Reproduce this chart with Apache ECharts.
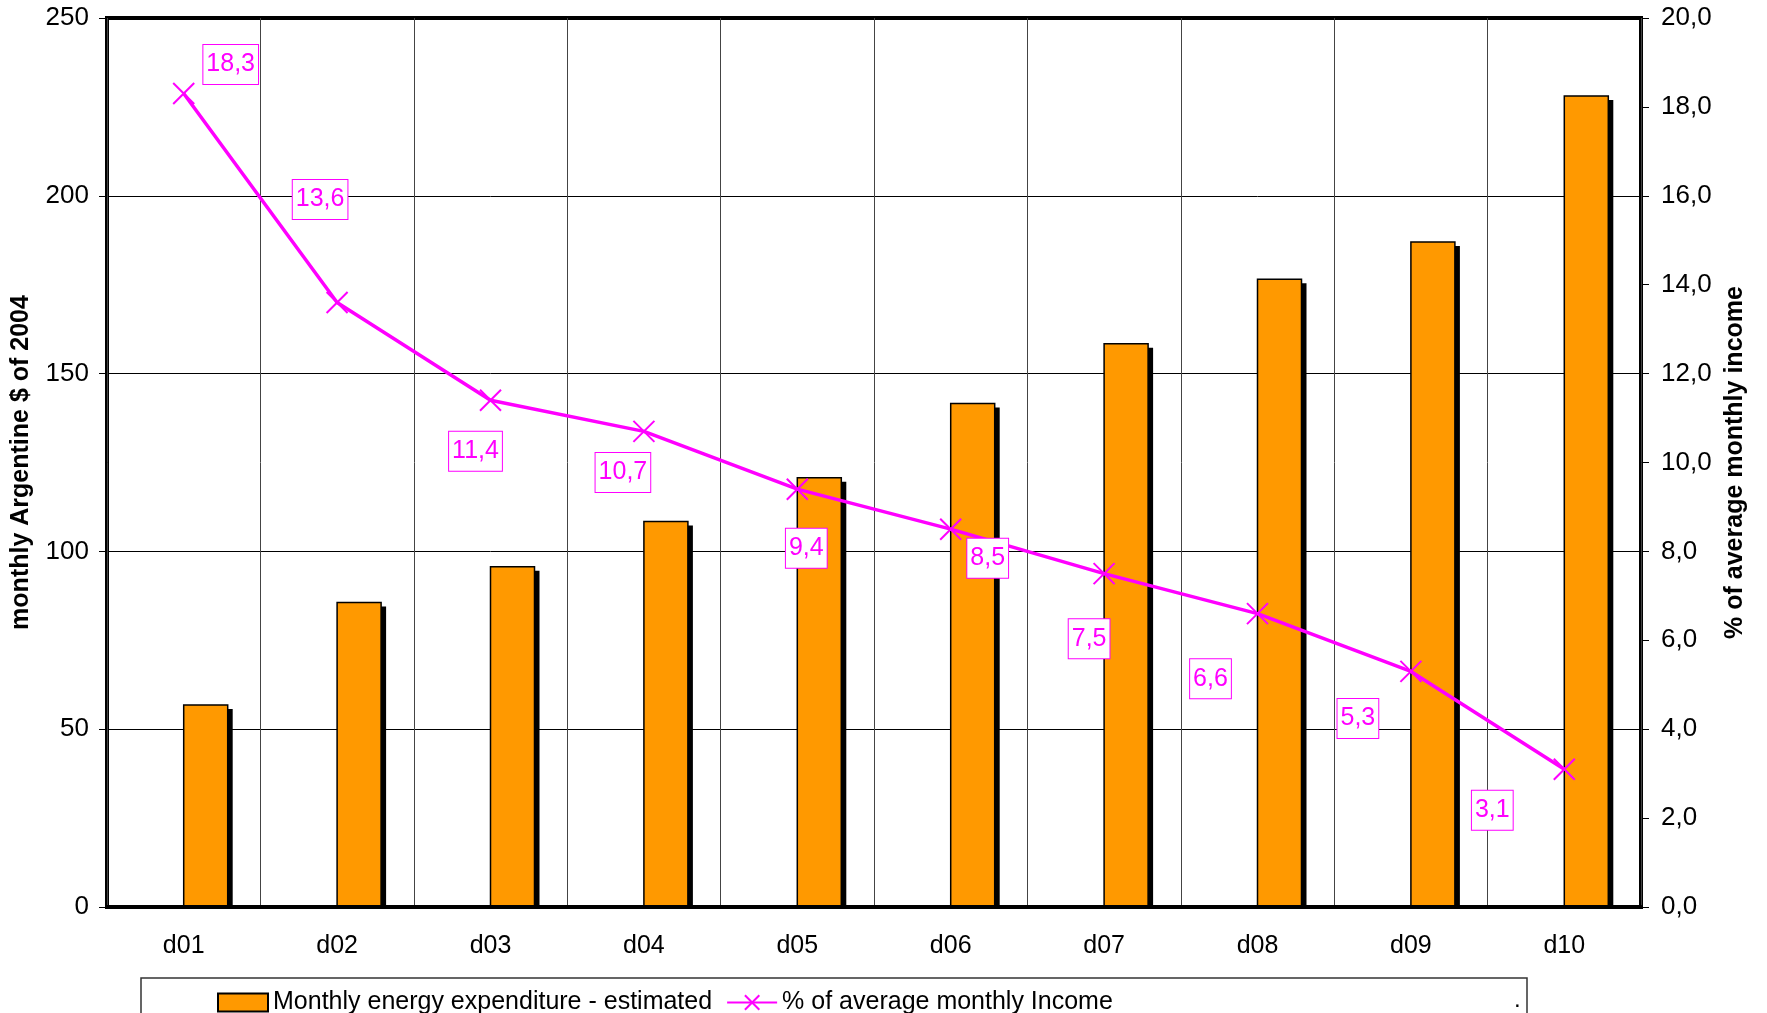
<!DOCTYPE html>
<html>
<head>
<meta charset="UTF-8">
<title>Energy expenditure by decile</title>
<script src="https://cdn.jsdelivr.net/npm/echarts@6/dist/echarts.min.js"></script>
<style>
  *{margin:0;padding:0;}
  body{background:#fff;}
  #main{width:1767px;height:1013px;}
</style>
</head>
<body>
<div id="main"></div>
<script>
// data
var deciles = ['d01','d02','d03','d04','d05','d06','d07','d08','d09','d10'];
var expenditure = [56.8, 85.6, 95.7, 108.4, 120.7, 141.6, 158.4, 176.5, 187.0, 228.1];
var incomeShare = [18.3, 13.6, 11.4, 10.7, 9.4, 8.5, 7.5, 6.6, 5.3, 3.1];

// where each label box sits relative to its point (px)
var labelShift = [[47,-29],[-17,-103],[-15,51],[-21,41],[9,59],[37,29],[-15,65],[-47,65],[-53,47],[-72,41]];

var font = 'Liberation Sans, Arial, sans-serif';
var pink = '#FF00FF';
var orange = '#FF9900';
var barW = 44;

function comma(v){ return Number(v).toFixed(1).replace('.', ','); }

var lineData = incomeShare.map(function(v, i){
  return { value: v, label: { offset: labelShift[i] } };
});
var barData = expenditure.map(function(v, i){ return [i, v]; });

// bar starts at the category centre, with a hard black drop shadow
function drawBar(params, api){
  var top = api.coord([api.value(0), api.value(1)]);
  var base = api.coord([api.value(0), 0]);
  var h = base[1] - top[1];
  return {
    type: 'group',
    children: [{
      type: 'rect',
      shape: { x: top[0] + 5, y: top[1] + 4, width: barW, height: h - 4 },
      style: { fill: '#000' }
    }, {
      type: 'rect',
      shape: { x: top[0], y: top[1], width: barW, height: h },
      style: { fill: orange, stroke: '#000', lineWidth: 1.5 }
    }]
  };
}

var myChart = echarts.init(document.getElementById('main'));

var option = {
  animation: false,
  textStyle: { fontFamily: font },
  grid: {
    left: 107, right: 126, top: 18, bottom: 106,
    show: true, borderColor: '#000', borderWidth: 4
  },
  legend: {
    left: 212, top: 985,
    itemWidth: 50, itemHeight: 18, itemGap: 14,
    textStyle: { fontSize: 25, color: '#000', fontFamily: font },
    data: [{
      name: 'Monthly energy expenditure - estimated',
      icon: 'rect',
      itemStyle: { color: orange, borderColor: '#000', borderWidth: 2 }
    }, '% of average monthly Income']
  },
  xAxis: {
    type: 'category',
    data: deciles,
    z: 3,
    axisLine: { lineStyle: { color: '#000', width: 4 } },
    axisTick: { length: 8, lineStyle: { color: '#000' } },
    axisLabel: { fontSize: 25, color: '#000', margin: 27, fontFamily: font },
    splitLine: { show: true, lineStyle: { color: '#444', width: 1 } }
  },
  yAxis: [{
    type: 'value', min: 0, max: 250, interval: 50,
    name: 'monthly Argentine $ of 2004',
    nameLocation: 'middle', nameRotate: 90, nameGap: 73,
    nameTextStyle: { fontSize: 25, fontWeight: 'bold', color: '#000', fontFamily: font },
    axisLine: { show: true, lineStyle: { color: '#000', width: 3 } },
    axisTick: { show: true, length: 8, lineStyle: { color: '#000' } },
    axisLabel: { fontSize: 26, color: '#000', margin: 18, fontFamily: font },
    splitLine: { show: true, lineStyle: { color: '#000', width: 1 } }
  }, {
    type: 'value', min: 0, max: 20, interval: 2, position: 'right',
    name: '% of average monthly income',
    nameLocation: 'middle', nameRotate: 90, nameGap: 82,
    nameTextStyle: { fontSize: 25, fontWeight: 'bold', color: '#000', fontFamily: font },
    axisLine: { show: true, lineStyle: { color: '#000', width: 3 } },
    axisTick: { show: true, length: 8, lineStyle: { color: '#000' } },
    axisLabel: { fontSize: 26, color: '#000', margin: 20, fontFamily: font, formatter: comma },
    splitLine: { show: false }
  }],
  series: [{
    name: 'Monthly energy expenditure - estimated',
    type: 'custom',
    renderItem: drawBar,
    encode: { x: 0, y: 1 },
    itemStyle: { color: orange },
    data: barData
  }, {
    name: '% of average monthly Income',
    type: 'line',
    yAxisIndex: 1,
    data: lineData,
    z: 4,
    symbol: 'path://M0,0L10,10M10,0L0,10',
    symbolSize: 21,
    showAllSymbol: true,
    lineStyle: { color: pink, width: 3.5 },
    itemStyle: { color: pink, borderColor: pink, borderWidth: 2 },
    label: {
      show: true,
      position: 'inside',
      formatter: function(p){ return comma(p.value); },
      color: pink, fontSize: 25, fontFamily: font,
      backgroundColor: '#fff', borderColor: pink, borderWidth: 1,
      padding: [8, 3, 6, 3]
    }
  }],
  graphic: [{
    type: 'rect',
    shape: { x: 141, y: 978, width: 1386, height: 60 },
    style: { fill: 'none', stroke: '#333', lineWidth: 1.5 },
    silent: true
  }, {
    type: 'text',
    left: 1514, top: 988,
    style: { text: '.', fontSize: 24, fill: '#000', fontFamily: font }
  }]
};

myChart.setOption(option);
</script>
</body>
</html>
